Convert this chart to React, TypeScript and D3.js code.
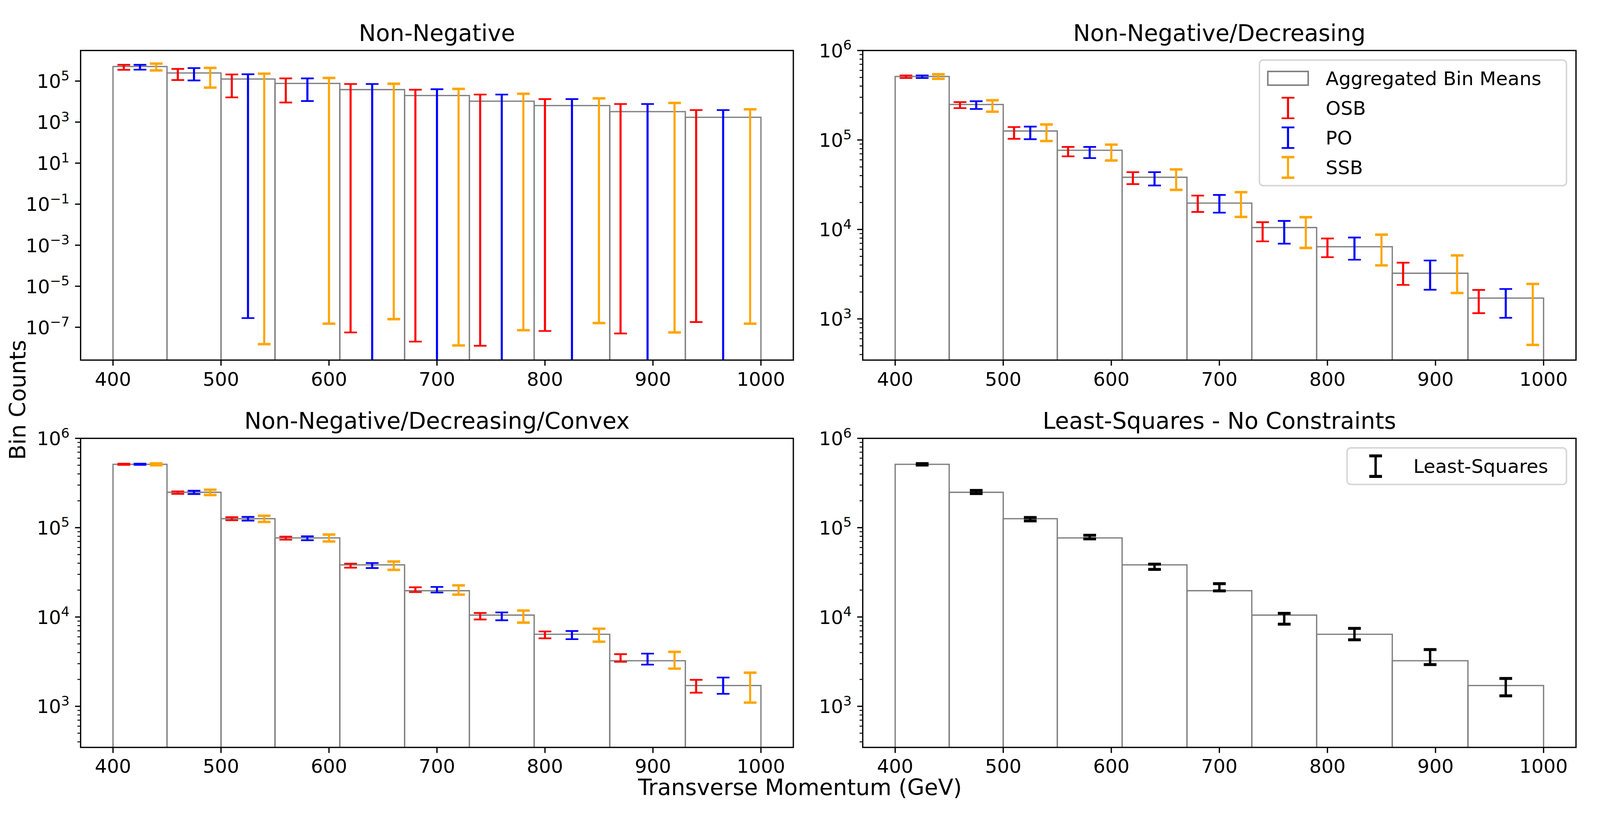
import { useEffect } from 'react';
import * as d3 from 'd3';

// bin edges (GeV) and aggregated bin means
const binEdges = [400, 450, 500, 550, 610, 670, 730, 790, 860, 930, 1000];
const binMeans = [5.12e5, 2.49e5, 1.26e5, 7.67e4, 3.83e4, 1.97e4, 1.05e4, 6.41e3, 3.24e3, 1.71e3];

const xTickValues = [400, 500, 600, 700, 800, 900, 1000];
const nnTickExps = [-7, -5, -3, -1, 1, 3, 5];
const logTickExps = [3, 4, 5, 6];

// Non-Negative (0 = lower bound not positive, runs off the axis)
const nnOsbLow = [3.55e5, 1.12e5, 1.6e4, 9.0e3, 5.6e-8, 2.0e-8, 1.25e-8, 6.6e-8, 5.0e-8, 1.8e-7];
const nnOsbHigh = [6.2e5, 3.9e5, 2.1e5, 1.35e5, 7.2e4, 3.8e4, 2.2e4, 1.32e4, 7.6e3, 3.85e3];
const nnPoLow = [3.6e5, 1.07e5, 2.8e-7, 1.06e4, 0, 0, 0, 0, 0, 0];
const nnPoHigh = [6.2e5, 4.3e5, 2.15e5, 1.35e5, 7.2e4, 4.0e4, 2.2e4, 1.32e4, 7.6e3, 3.85e3];
const nnSsbLow = [3.3e5, 4.8e4, 1.5e-8, 1.5e-7, 2.5e-7, 1.3e-8, 7.2e-8, 1.6e-7, 5.6e-8, 1.5e-7];
const nnSsbHigh = [7.1e5, 4.4e5, 2.3e5, 1.42e5, 7.4e4, 4.15e4, 2.4e4, 1.44e4, 8.6e3, 4.2e3];

// Non-Negative/Decreasing
const decOsbLow = [4.92e5, 2.27e5, 1.03e5, 6.56e4, 3.21e4, 1.57e4, 7.36e3, 4.9e3, 2.4e3, 1.16e3];
const decOsbHigh = [5.26e5, 2.65e5, 1.395e5, 8.36e4, 4.37e4, 2.39e4, 1.205e4, 7.93e3, 4.25e3, 2.11e3];
const decPoLow = [4.92e5, 2.22e5, 1.02e5, 6.27e4, 3.1e4, 1.54e4, 6.94e3, 4.59e3, 2.12e3, 1.03e3];
const decPoHigh = [5.26e5, 2.71e5, 1.41e5, 8.36e4, 4.37e4, 2.43e4, 1.245e4, 8.13e3, 4.5e3, 2.16e3];
const decSsbLow = [4.82e5, 2.07e5, 9.73e4, 5.9e4, 2.77e4, 1.38e4, 6.21e3, 3.97e3, 1.95e3, 5.12e2];
const decSsbHigh = [5.43e5, 2.78e5, 1.49e5, 8.87e4, 4.69e4, 2.61e4, 1.37e4, 8.74e3, 5.13e3, 2.46e3];

// Non-Negative/Decreasing/Convex
const cvxOsbLow = [5.05e5, 2.39e5, 1.21e5, 7.34e4, 3.57e4, 1.9e4, 9.38e3, 5.77e3, 3.15e3, 1.42e3];
const cvxOsbHigh = [5.2e5, 2.55e5, 1.31e5, 7.94e4, 3.96e4, 2.15e4, 1.11e4, 6.89e3, 3.84e3, 1.98e3];
const cvxPoLow = [5.05e5, 2.38e5, 1.2e5, 7.24e4, 3.53e4, 1.88e4, 9.19e3, 5.65e3, 2.93e3, 1.38e3];
const cvxPoHigh = [5.2e5, 2.59e5, 1.32e5, 8.0e4, 4.02e4, 2.17e4, 1.125e4, 6.97e3, 3.89e3, 2.1e3];
const cvxSsbLow = [5.0e5, 2.32e5, 1.16e5, 7.01e4, 3.37e4, 1.78e4, 8.65e3, 5.29e3, 2.64e3, 1.1e3];
const cvxSsbHigh = [5.25e5, 2.66e5, 1.36e5, 8.37e4, 4.18e4, 2.26e4, 1.18e4, 7.39e3, 4.07e3, 2.38e3];

// Least-Squares
const lsLow = [5.02e5, 2.41e5, 1.19e5, 7.5e4, 3.41e4, 1.96e4, 8.32e3, 5.55e3, 2.93e3, 1.31e3];
const lsHigh = [5.22e5, 2.61e5, 1.3e5, 8.22e4, 3.91e4, 2.36e4, 1.1e4, 7.45e3, 4.32e3, 2.05e3];

const FONT = "'DejaVu Sans', sans-serif";
const GRAY = '#808080';
const CAP_HALF = 16.7;

// errorbar x positions inside each bin
const osbX = binEdges.slice(0, -1).map(e => e + 10);
const poX = binEdges.slice(0, -1).map((e, i) => (e + binEdges[i + 1]) / 2);
const ssbX = binEdges.slice(1).map(e => e - 10);

interface Series {
  name: string;
  color: string;
  xs: number[];
  low: number[];
  high: number[];
  lineWidth: number;
  capThick: number;
}

interface PanelProps {
  id: string;
  title: string;
  left: number;
  right: number;
  top: number;
  bottom: number;
  yExp: [number, number];
  majorExps: number[];
  minor: boolean;
  series: Series[];
  legend?: { width: number; withPatch: boolean };
}

const sup = (e: number) => (e < 0 ? '\u2212' + Math.abs(e) : String(e));

const Panel = ({ id, title, left, right, top, bottom, yExp, majorExps, minor, series, legend }: PanelProps) => {
  const x = d3.scaleLinear().domain([370, 1030]).range([left, right]);
  const y = d3.scaleLog().domain([10 ** yExp[0], 10 ** yExp[1]]).range([bottom, top]);

  const minorTicks: number[] = [];
  if (minor) {
    for (let e = Math.floor(yExp[0]); e < Math.ceil(yExp[1]); e++) {
      for (let m = 2; m <= 9; m++) {
        const v = m * 10 ** e;
        if (v >= 10 ** yExp[0] && v <= 10 ** yExp[1]) minorTicks.push(v);
      }
    }
  }

  const bars = binMeans.map((v, i) => {
    const p = d3.path();
    p.moveTo(x(binEdges[i]), bottom + 10);
    p.lineTo(x(binEdges[i]), y(v));
    p.lineTo(x(binEdges[i + 1]), y(v));
    p.lineTo(x(binEdges[i + 1]), bottom + 10);
    return p.toString();
  });

  const legendRows: { label: string; s?: Series }[] = [];
  if (legend) {
    if (legend.withPatch) legendRows.push({ label: 'Aggregated Bin Means' });
    series.forEach(s => legendRows.push({ label: s.name, s }));
  }
  const lgLeft = right - 25 - (legend ? legend.width : 0);
  const lgTop = top + 25;
  const lgHeight = 96 + (legendRows.length - 1) * 78;

  return (
    <g>
      <defs>
        <clipPath id={`clip-${id}`}>
          <rect x={left} y={top} width={right - left} height={bottom - top} />
        </clipPath>
      </defs>
      <g clipPath={`url(#clip-${id})`}>
        {bars.map((d, i) => (
          <path key={i} d={d} fill="none" stroke={GRAY} strokeWidth={3.4} />
        ))}
        {series.map(s => (
          <g key={s.name} stroke={s.color}>
            {s.xs.map((xv, i) => {
              const cx = x(xv);
              const yh = y(s.high[i]);
              const hasLow = s.low[i] > 0;
              const yl = hasLow ? y(s.low[i]) : bottom + 20;
              return (
                <g key={i}>
                  <line x1={cx} x2={cx} y1={yl} y2={yh} strokeWidth={s.lineWidth} />
                  <line x1={cx - CAP_HALF} x2={cx + CAP_HALF} y1={yh} y2={yh} strokeWidth={s.capThick} />
                  {hasLow && (
                    <line x1={cx - CAP_HALF} x2={cx + CAP_HALF} y1={yl} y2={yl} strokeWidth={s.capThick} />
                  )}
                </g>
              );
            })}
          </g>
        ))}
      </g>

      {/* spines */}
      <rect x={left} y={top} width={right - left} height={bottom - top} fill="none" stroke="#000" strokeWidth={3.33} />

      {/* x axis */}
      {xTickValues.map(t => (
        <g key={t}>
          <line x1={x(t)} x2={x(t)} y1={bottom} y2={bottom + 14.6} stroke="#000" strokeWidth={3.33} />
          <text x={x(t)} y={bottom + 67} textAnchor="middle" fontSize={50} fontFamily={FONT}>{t}</text>
        </g>
      ))}

      {/* y axis */}
      {minorTicks.map(v => (
        <line key={v} x1={left - 8.3} x2={left} y1={y(v)} y2={y(v)} stroke="#000" strokeWidth={2.5} />
      ))}
      {majorExps.map(e => (
        <g key={e}>
          <line x1={left - 14.6} x2={left} y1={y(10 ** e)} y2={y(10 ** e)} stroke="#000" strokeWidth={3.33} />
          <text x={left - 29} y={y(10 ** e) + 18} textAnchor="end" fontSize={50} fontFamily={FONT}>
            10<tspan dy={-20} fontSize={35}>{sup(e)}</tspan>
          </text>
        </g>
      ))}

      <text x={(left + right) / 2} y={top - 25} textAnchor="middle" fontSize={60} fontFamily={FONT}>{title}</text>

      {legend && (
        <g>
          <rect x={lgLeft} y={lgTop} width={legend.width} height={lgHeight} rx={10} ry={10}
            fill="#fff" fillOpacity={0.8} stroke="#d6d6d6" strokeWidth={4} />
          {legendRows.map((r, i) => {
            const cy = lgTop + 48 + i * 78;
            const gx = lgLeft + 75;
            return (
              <g key={r.label}>
                {r.s ? (
                  <g stroke={r.s.color}>
                    <line x1={gx} x2={gx} y1={cy - 27} y2={cy + 27} strokeWidth={r.s.lineWidth} />
                    <line x1={gx - CAP_HALF} x2={gx + CAP_HALF} y1={cy - 27} y2={cy - 27} strokeWidth={r.s.capThick} />
                    <line x1={gx - CAP_HALF} x2={gx + CAP_HALF} y1={cy + 27} y2={cy + 27} strokeWidth={r.s.capThick} />
                  </g>
                ) : (
                  <rect x={lgLeft + 22} y={cy - 18} width={106} height={36} fill="#fff" stroke={GRAY} strokeWidth={4} />
                )}
                <text x={lgLeft + 174} y={cy + 18} fontSize={50} fontFamily={FONT}>{r.label}</text>
              </g>
            );
          })}
        </g>
      )}
    </g>
  );
};

const makeSeries = (low: number[][], high: number[][]): Series[] => [
  { name: 'OSB', color: 'red', xs: osbX, low: low[0], high: high[0], lineWidth: 5.5, capThick: 4.5 },
  { name: 'PO', color: 'blue', xs: poX, low: low[1], high: high[1], lineWidth: 5.5, capThick: 4.5 },
  { name: 'SSB', color: 'orange', xs: ssbX, low: low[2], high: high[2], lineWidth: 5.5, capThick: 6.5 },
];

const App = () => {
  useEffect(() => {
    document.body.style.margin = '0';
    document.body.style.overflow = 'hidden';
  }, []);

  const L = { left: 211.6, right: 2082.5 };
  const R = { left: 2264.7, right: 4137 };
  const T = { top: 132.6, bottom: 945.6 };
  const B = { top: 1151.1, bottom: 1962.7 };

  const lsSeries: Series[] = [
    { name: 'Least-Squares', color: '#000', xs: poX, low: lsLow, high: lsHigh, lineWidth: 6.3, capThick: 7.7 },
  ];

  return (
    <>
      <style>{'html,body{margin:0;padding:0;overflow:hidden;background:#fff}'}</style>
      <svg viewBox="0 0 4200 2100" preserveAspectRatio="xMinYMin meet"
        style={{ display: 'block', width: '100vw', height: '100vh', background: '#fff' }}>
        <rect width={4200} height={2100} fill="#fff" />
        <Panel id="nn" title="Non-Negative" {...L} {...T} yExp={[-8.6, 6.49]} majorExps={nnTickExps} minor={false}
          series={makeSeries([nnOsbLow, nnPoLow, nnSsbLow], [nnOsbHigh, nnPoHigh, nnSsbHigh])} />
        <Panel id="dec" title="Non-Negative/Decreasing" {...R} {...T} yExp={[2.54, 6]} majorExps={logTickExps} minor
          series={makeSeries([decOsbLow, decPoLow, decSsbLow], [decOsbHigh, decPoHigh, decSsbHigh])}
          legend={{ width: 806, withPatch: true }} />
        <Panel id="cvx" title="Non-Negative/Decreasing/Convex" {...L} {...B} yExp={[2.54, 6]} majorExps={logTickExps} minor
          series={makeSeries([cvxOsbLow, cvxPoLow, cvxSsbLow], [cvxOsbHigh, cvxPoHigh, cvxSsbHigh])} />
        <Panel id="ls" title="Least-Squares - No Constraints" {...R} {...B} yExp={[2.54, 6]} majorExps={logTickExps} minor
          series={lsSeries} legend={{ width: 576, withPatch: false }} />

        <text x={2100} y={2088} textAnchor="middle" fontSize={58.3} fontFamily={FONT}>Transverse Momentum (GeV)</text>
        <text transform="translate(67,1050) rotate(-90)" textAnchor="middle" fontSize={58.3} fontFamily={FONT}>Bin Counts</text>
      </svg>
    </>
  );
};

export default App;
